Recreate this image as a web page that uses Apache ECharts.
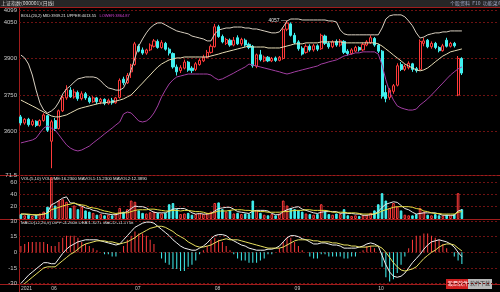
<!DOCTYPE html>
<html><head><meta charset="utf-8">
<script src="https://cdn.jsdelivr.net/npm/echarts@6/dist/echarts.min.js"></script>
<style>html,body{margin:0;padding:0;background:#000;}#c{width:500px;height:292px;}</style>
</head><body><div id="c"></div>
<script>
// ---------- data ----------
const totalSlots = 126;
const tickIndex = [0, 8, 30, 51, 72, 94];
const tickText = ['2021', '06', '07', '08', '09', '10'];
// [open, close, low, high]
const ohlc = [
[3660,3635,3625,3668],[3635,3650,3628,3655],[3650,3628,3620,3656],[3628,3642,3622,3650],[3642,3625,3618,3646],
[3625,3645,3620,3650],[3645,3668,3640,3675],[3665,3605,3598,3668],[3560,3640,3449,3648],[3645,3612,3602,3655],
[3612,3685,3608,3690],[3685,3740,3680,3748],[3738,3772,3730,3790],[3770,3742,3738,3782],[3742,3762,3735,3775],
[3760,3735,3726,3768],[3735,3755,3728,3765],[3755,3738,3730,3762],[3738,3722,3715,3745],[3722,3738,3718,3745],
[3738,3722,3712,3742],[3722,3732,3712,3738],[3732,3716,3708,3736],[3716,3728,3710,3735],[3728,3718,3710,3738],
[3718,3738,3714,3742],[3740,3810,3735,3818],[3815,3800,3790,3825],[3800,3830,3795,3840],[3845,3872,3820,3878],
[3875,3960,3870,3968],[3950,3930,3925,3958],[3935,3922,3915,3945],[3922,3935,3915,3940],[3935,3955,3930,3962],
[3950,3972,3945,3980],[3970,3945,3940,3978],[3945,3965,3940,3975],[3962,3938,3932,3968],[3938,3922,3912,3945],
[3920,3865,3858,3925],[3865,3845,3830,3875],[3850,3862,3840,3872],[3860,3885,3855,3895],[3885,3852,3845,3890],
[3860,3850,3840,3868],[3855,3878,3848,3885],[3875,3892,3870,3900],[3890,3905,3885,3915],[3905,3925,3900,3935],
[3925,3950,3920,3958],[3948,4030,3945,4042],[4030,3990,3985,4038],[3990,3968,3962,3998],[3962,3978,3955,3985],
[3975,3955,3948,3982],[3955,3975,3950,3988],[3985,3960,3955,3995],[3960,3978,3952,3985],[3975,3955,3948,3982],
[3958,3945,3938,3965],[3950,3870,3862,3955],[3868,3915,3860,3920],[3915,3895,3888,3935],[3890,3905,3885,3912],
[3905,3890,3885,3910],[3890,3900,3885,3906],[3902,3892,3886,3908],[3892,3905,3888,3910],[3900,4020,3895,4028],
[4020,4045,4012,4057],[4042,3995,3990,4048],[3995,3965,3958,4005],[3968,3940,3932,3975],[3942,3918,3912,3950],
[3925,3950,3920,3958],[3950,3935,3928,3958],[3935,3952,3928,3960],[3952,3938,3930,3958],[3940,3995,3935,4002],
[3992,3962,3955,3998],[3962,3948,3940,3970],[3948,3968,3942,3975],[3970,3955,3948,3978],[3955,3972,3948,3980],
[3970,3925,3918,3975],[3930,3920,3912,3938],[3920,3935,3915,3942],[3930,3945,3925,3952],[3945,3935,3928,3950],
[3935,3958,3930,3965],[3955,3968,3950,3975],[3965,3985,3960,3995],[3982,3955,3948,3988],[3955,3930,3922,3960],
[3930,3745,3735,3935],[3760,3735,3720,3790],[3740,3770,3730,3778],[3765,3788,3755,3795],[3790,3870,3785,3880],
[3875,3855,3848,3885],[3855,3868,3848,3875],[3862,3880,3855,3888],[3878,3855,3845,3882],[3858,3850,3842,3865],
[3855,3970,3850,3978],[3962,3972,3950,3985],[3975,3948,3942,3980],[3948,3962,3940,3970],[3962,3945,3938,3968],
[3945,3932,3925,3950],[3932,3952,3928,3960],[3975,3950,3945,3985],[3950,3962,3945,3968],[3962,3952,3945,3968],
[3750,3900,3745,3910],[3900,3840,3832,3905]
];
const bollUpper = [
3914,3902,3877,3832,3770,3717,3688,3676,3684,3697,3721,3754,3775,3787,3803,3816,3820,3824,3824,3824,
3820,3808,3791,3779,3775,3770,3770,3779,3812,3853,3902,3951,3980,4005,4025,4038,4046,4046,4038,4029,
4021,4013,4009,4005,4001,3992,3988,3984,3980,3972,3972,4001,4017,4021,4025,4025,4029,4029,4029,4025,
4025,4021,4021,4017,4013,4009,4005,4005,4009,4029,4054,4062,4062,4062,4058,4058,4058,4058,4058,4058,
4058,4054,4054,4050,4017,4001,3997,3997,3997,3997,3997,3997,3997,3997,3997,4025,4062,4075,4079,4079,
4079,4071,4054,4034,4005,3984,3988,3997,4001,4005,4005,4009,4009,4013,4013,4013,4013
];
const bollMid = [
3729,3721,3713,3705,3697,3688,3680,3672,3664,3660,3660,3664,3668,3676,3684,3692,3697,3701,3705,3709,
3713,3717,3717,3721,3721,3725,3729,3734,3742,3750,3766,3783,3799,3816,3832,3849,3865,3877,3886,3894,
3898,3902,3902,3906,3906,3906,3906,3906,3906,3906,3910,3914,3918,3923,3927,3931,3935,3939,3943,3947,
3951,3947,3947,3947,3947,3943,3943,3943,3943,3947,3951,3955,3960,3960,3960,3964,3964,3964,3964,3968,
3968,3968,3968,3968,3968,3964,3964,3964,3964,3964,3964,3964,3964,3964,3960,3951,3939,3927,3914,3902,
3890,3877,3869,3861,3853,3849,3853,3861,3873,3886,3898,3910,3918,3927,3931,3935,3939
];
const bollLower = [
3553,3557,3561,3565,3573,3594,3614,3623,3614,3606,3586,3565,3545,3532,3524,3520,3524,3532,3540,3553,
3565,3577,3590,3602,3614,3627,3639,3672,3680,3676,3660,3643,3639,3643,3655,3676,3705,3742,3770,3795,
3812,3824,3828,3832,3836,3836,3836,3836,3836,3836,3832,3820,3812,3816,3824,3832,3840,3849,3857,3865,
3877,3873,3869,3865,3861,3857,3853,3849,3845,3840,3836,3840,3845,3849,3853,3857,3861,3865,3869,3877,
3881,3886,3890,3894,3902,3910,3914,3918,3923,3923,3927,3927,3927,3927,3918,3873,3812,3762,3729,3705,
3697,3692,3688,3688,3692,3709,3721,3734,3750,3766,3783,3799,3816,3832,3845,3857,3865
];
const volume = [
8,6,7,5,6,9,12,20,68,22,30,32,28,18,22,16,20,14,12,10,
7,8,6,7,6,8,18,12,16,30,28,14,10,9,11,12,10,9,10,24,
26,16,8,9,10,7,8,9,8,10,12,26,27,16,12,14,9,10,8,9,
8,30,14,10,7,6,8,6,9,30,22,18,16,14,12,9,8,7,8,24,
12,8,7,9,8,16,6,5,6,5,6,7,10,14,24,42,30,18,26,20,
14,7,6,6,8,18,12,7,6,8,6,5,7,6,8,42,16
];
const maVol1 = [
8,8,7,7,6,7,8,10,23,26,30,34,36,26,26,23,21,18,17,14,
13,10,9,8,7,7,9,10,12,17,21,20,20,18,14,11,10,10,10,13,
16,17,17,17,14,10,8,9,8,8,9,13,17,18,19,19,16,12,11,10,
9,13,14,14,14,13,9,7,7,12,15,17,19,20,16,14,12,10,9,11,
12,12,12,12,9,10,9,9,8,8,6,6,7,8,12,19,24,26,28,27,
22,17,15,11,8,9,10,10,10,10,8,6,6,6,6,13,15
];
const maVol2 = [
8,8,8,7,7,7,8,9,15,17,19,21,23,24,26,24,23,22,19,18,
17,15,13,12,10,9,10,10,10,12,14,15,15,15,16,16,15,14,13,13,
14,14,13,14,14,13,12,12,11,9,9,11,13,13,13,14,15,15,15,14,
14,13,13,12,12,11,11,11,11,12,12,13,14,14,14,15,15,14,14,14,
14,13,11,11,11,11,10,10,10,9,8,8,8,8,10,13,15,17,19,20,
20,20,20,19,17,16,13,12,10,9,9,8,8,8,8,11,12
];
const dif = [
-30,-26,-22,-19,-16,-13,-10,-10,-11,-11,-6,-1,3,6,8,10,11,12,12,12,
12,11,10,9,8,7,8,12,16,20,24,26,28,29,29,28,25,22,19,16,
12,9,6,4,3,2,2,4,6,9,13,16,17,17,16,13,11,9,7,6,
4,3,2,2,2,3,3,4,6,10,14,16,16,15,13,12,10,8,8,9,
9,8,7,7,6,4,4,4,4,5,6,8,9,8,6,-3,-12,-19,-23,-24,
-23,-20,-15,-10,-6,-2,3,7,10,11,12,11,10,8,5,0,-4.3
];
const dea = [
-33,-30,-27,-24,-21,-18,-15,-14,-14,-14,-11,-8,-5,-2,0,3,6,8,9,10,
11,11,11,10,10,9,8,9,10,12,14,17,19,21,23,24,25,25,24,22,
20,17,15,13,10,8,6,5,5,6,7,9,11,12,13,12,12,12,11,10,
9,8,7,6,5,4,4,4,4,5,7,9,11,12,12,12,12,11,11,10,
10,10,9,9,8,7,7,6,6,5,5,5,6,6,6,4,0,-5,-10,-14,
-17,-18,-17,-16,-14,-10,-6,-3,0,2,5,7,8,8,7,4,1.3
];
const macdHist = [
6,8,10,10,10,10,10,8,6,6,10,14,16,16,16,14,10,8,6,4,
2,0,-2,-2,-4,-4,0,6,12,16,20,18,18,16,12,8,0,-6,-10,-12,
-16,-16,-18,-18,-14,-12,-8,-2,2,6,12,14,12,10,6,2,-2,-6,-8,-8,
-10,-10,-10,-8,-6,-2,-2,0,4,10,14,14,10,6,2,0,-4,-6,-6,-2,
-2,-4,-4,-4,-4,-6,-6,-4,-4,0,2,6,6,4,0,-14,-24,-28,-26,-20,
-12,-4,4,12,16,16,18,18,16,14,12,8,4,0,-4,-8,-11.2
];

// ---------- styles ----------
const UP = '#ff3a3a', DOWN = '#40f0f0';
const GRIDC = '#6e1212', FRAME = '#a01c1c', LBL = '#c8c8c8';
const FONT = 'Liberation Sans';
const cats = Array.from({length: totalSlots}, (_, i) => String(i));

const volData = volume.map((v, i) => {
  const up = ohlc[i][1] >= ohlc[i][0];
  return {value: v, itemStyle: {color: up ? 'rgba(0,0,0,0)' : DOWN, borderColor: up ? UP : DOWN, borderWidth: 1}};
});
const histData = macdHist.map(v => ({value: v, itemStyle: {color: v >= 0 ? UP : DOWN}}));

const L = 19, R = 2;
const chart = echarts.init(document.getElementById('c'), null, {renderer: 'canvas'});
const xBase = {type: 'category', data: cats, boundaryGap: true, axisLine: {show: false}, axisTick: {show: false}, splitLine: {show: false}};
const yLab = {color: LBL, fontSize: 6, fontFamily: FONT, margin: 2, formatter: v => String(v)};
chart.setOption({
  backgroundColor: '#000',
  animation: false,
  textStyle: {fontFamily: FONT},
  grid: [
    {left: L, right: R, top: 10, height: 158},
    {left: L, right: R, top: 175, height: 44},
    {left: L, right: R, top: 219, height: 64.5}
  ],
  xAxis: [
    Object.assign({gridIndex: 0, axisLabel: {show: false}}, xBase),
    Object.assign({gridIndex: 1, axisLabel: {show: false}}, xBase),
    Object.assign({gridIndex: 2, axisLabel: {show: true, color: LBL, fontSize: 5, margin: 3, align: 'left',
      interval: (i) => tickIndex.indexOf(i) >= 0,
      formatter: (v, i) => { const k = tickIndex.indexOf(Number(v)); return k >= 0 ? tickText[k] : ''; }}}, xBase)
  ],
  yAxis: [
    {gridIndex: 0, type: 'value', min: 3450, max: 4099, interval: 150, axisLine: {show: false}, axisTick: {show: false},
     axisLabel: Object.assign({showMinLabel: false}, yLab),
     splitLine: {showMinLine: false, lineStyle: {color: GRIDC, type: [2, 2], width: 1}}},
    {gridIndex: 1, type: 'value', min: 0, max: 71.5, interval: 20, axisLine: {show: false}, axisTick: {show: false},
     axisLabel: Object.assign({showMinLabel: false}, yLab),
     splitLine: {showMinLine: false, lineStyle: {color: GRIDC, type: [2, 2], width: 1}}},
    {gridIndex: 2, type: 'value', min: -30, max: 32, interval: 15, axisLine: {show: false}, axisTick: {show: false},
     axisLabel: Object.assign({showMaxLabel: false}, yLab),
     splitLine: {showMaxLine: false, lineStyle: {color: GRIDC, type: [2, 2], width: 1}}}
  ],
  series: [
    {type: 'candlestick', xAxisIndex: 0, yAxisIndex: 0, data: ohlc, barWidth: 2.6,
     itemStyle: {color: 'rgba(0,0,0,0)', color0: DOWN, borderColor: UP, borderColor0: DOWN, borderWidth: 1},
     markPoint: {symbol: 'circle', symbolSize: 0,
       label: {color: '#e0e0e0', fontSize: 5, fontFamily: FONT},
       data: [
         {type: 'max', valueDim: 'highest', label: {position: 'left', distance: 1, formatter: p => p.value + ' —'}},
         {type: 'min', valueDim: 'lowest', label: {position: 'left', distance: 1, formatter: p => p.value + ' ←'}}
       ]}},
    {type: 'line', xAxisIndex: 0, yAxisIndex: 0, data: bollUpper, showSymbol: false, lineStyle: {color: '#d8cfc0', width: 1}},
    {type: 'line', xAxisIndex: 0, yAxisIndex: 0, data: bollMid, showSymbol: false, lineStyle: {color: '#e6dcb4', width: 1}},
    {type: 'line', xAxisIndex: 0, yAxisIndex: 0, data: bollLower, showSymbol: false, lineStyle: {color: '#a23ea2', width: 1}},
    {type: 'bar', xAxisIndex: 1, yAxisIndex: 1, data: volData, barWidth: 2.6},
    {type: 'line', xAxisIndex: 1, yAxisIndex: 1, data: maVol1, showSymbol: false, lineStyle: {color: '#e8e8e8', width: 1}},
    {type: 'line', xAxisIndex: 1, yAxisIndex: 1, data: maVol2, showSymbol: false, lineStyle: {color: '#e8e040', width: 1}},
    {type: 'bar', xAxisIndex: 2, yAxisIndex: 2, data: histData, barWidth: 1},
    {type: 'line', xAxisIndex: 2, yAxisIndex: 2, data: dif, showSymbol: false, lineStyle: {color: '#f0f0f0', width: 1}},
    {type: 'line', xAxisIndex: 2, yAxisIndex: 2, data: dea, showSymbol: false, lineStyle: {color: '#e8e060', width: 1}}
  ],
  graphic: [
    {type: 'rect', shape: {x: 0, y: 0, width: 500, height: 7}, style: {fill: '#262626'}},
    {type: 'text', x: 1, y: 1, style: {text: '上证指数(000001)(日线)', fill: '#d8d8d8', font: '5px "Noto Sans CJK SC"'}},
    {type: 'text', x: 450, y: 1, style: {text: '个股资料  F10  功能菜单', fill: '#a0a8c8', font: '5px "Noto Sans CJK SC"'}},
    {type: 'line', shape: {x1: 0, y1: 7.5, x2: 500, y2: 7.5}, style: {stroke: FRAME, lineWidth: 1}},
    {type: 'line', shape: {x1: 0, y1: 175.5, x2: 500, y2: 175.5}, style: {stroke: FRAME, lineWidth: 1}},
    {type: 'line', shape: {x1: 0, y1: 219.5, x2: 500, y2: 219.5}, style: {stroke: FRAME, lineWidth: 1}},
    {type: 'line', shape: {x1: 0, y1: 284.5, x2: 500, y2: 284.5}, style: {stroke: FRAME, lineWidth: 1}},
    {type: 'line', shape: {x1: 19.5, y1: 7, x2: 19.5, y2: 292}, style: {stroke: FRAME, lineWidth: 1}},
    {type: 'text', x: 21, y: 10, style: {
      text: '{w|BOLL(20,2) MID:3939.21 UPPER:4013.55} {m|LOWER:3864.87}',
      rich: {w: {fill: '#e0e0e0', font: '4px "Liberation Sans"'}, m: {fill: '#d040d0', font: '4px "Liberation Sans"'}}}},
    {type: 'text', x: 21, y: 177, style: {text: 'VOL(5,10) VOLUME:16.2300 MAVOL1:15.2300 MAVOL2:12.3890', fill: '#e0e0e0', font: '4.3px "Liberation Sans"'}},
    {type: 'text', x: 21, y: 221, style: {text: 'MACD(12,26,9) DIFF:-4.2608 DEA:1.3271 MACD:-11.1758', fill: '#e0e0e0', font: '4.3px "Liberation Sans"'}},
    {type: 'rect', shape: {x: 446, y: 279, width: 22, height: 10}, style: {fill: '#d02020'}},
    {type: 'rect', shape: {x: 468, y: 279, width: 24, height: 10}, style: {fill: '#b8b8b8'}},
    {type: 'text', x: 448, y: 281, style: {text: '股票软件', fill: '#fff', font: '5px "Noto Sans CJK SC"'}},
    {type: 'text', x: 470, y: 281, style: {text: '软件下载', fill: '#333', font: '5px "Noto Sans CJK SC"'}}
  ]
});
</script></body></html>
